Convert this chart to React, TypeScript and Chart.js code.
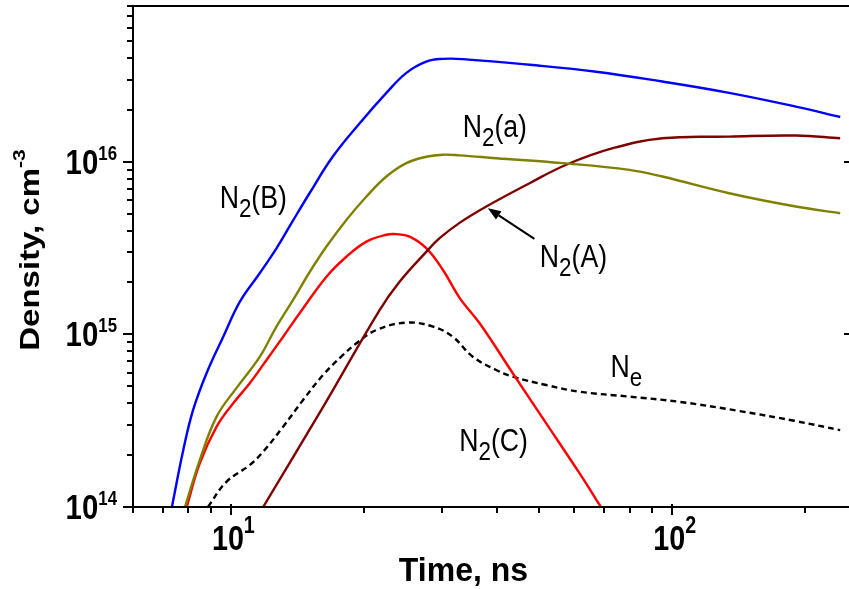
import React, { useEffect, useRef } from 'react';
import { Chart, registerables } from 'chart.js';

Chart.register(...registerables);

const FONT = "'Liberation Sans', Arial, Helvetica, sans-serif";

// ---- data (time in ns, density in cm^-3) ----
const n2bTime = [7.35, 7.8, 8.21, 8.81, 9.59, 10.48, 11.63, 12.68, 13.81, 15.08, 17.0, 19.6, 22.5, 24.97, 27.7, 30.2, 33.5, 47.5, 67.2, 94.9, 134.5, 190.4, 240];
const n2bDensity = [1e14, 2.14e14, 3.65e14, 5.98e14, 9.6e14, 1.55e15, 2.27e15, 3.15e15, 4.55e15, 6.6e15, 1.07e16, 1.68e16, 2.51e16, 3.28e16, 3.81e16, 3.95e16, 3.94e16, 3.65e16, 3.33e16, 2.92e16, 2.51e16, 2.09e16, 1.82e16];

const n2aSmallTime = [7.87, 8.5, 9.28, 10.3, 11.63, 12.68, 13.83, 15.08, 16.46, 18.26, 20.28, 22.5, 24.97, 27.7, 30.2, 32.96, 39.9, 56.4, 79.9, 94.9, 134.5, 190.4, 240];
const n2aSmallDensity = [1e14, 1.87e14, 3.34e14, 4.9e14, 7.43e14, 1.11e15, 1.585e15, 2.3e15, 3.23e15, 4.61e15, 6.3e15, 8.22e15, 9.83e15, 1.07e16, 1.1e16, 1.09e16, 1.05e16, 9.83e15, 8.99e15, 8.22e15, 6.58e15, 5.51e15, 5.04e15];

const n2cTime = [7.94, 8.5, 9.28, 10.12, 11.03, 12.04, 13.13, 14.32, 16.46, 18.26, 20.28, 22.5, 23.7, 25.4, 27.7, 30.2, 32.96, 36.6, 43.5, 51.8, 61.6, 68.9];
const n2cDensity = [1e14, 1.79e14, 2.92e14, 3.99e14, 5.21e14, 7.11e14, 9.7e14, 1.33e15, 2.16e15, 2.82e15, 3.45e15, 3.78e15, 3.81e15, 3.69e15, 3.16e15, 2.37e15, 1.63e15, 1.16e15, 5.96e14, 3.05e14, 1.57e14, 1e14];

const n2ACapTime = [11.83, 16.29, 21.7, 24.1, 27.7, 29.7, 32.96, 37.9, 47.5, 57.5, 73.3, 95.0, 134.5, 190.4, 240];
const n2ACapDensity = [1e14, 3.92e14, 1.38e15, 2.02e15, 3.01e15, 3.61e15, 4.43e15, 5.51e15, 7.52e15, 9.62e15, 1.2e16, 1.37e16, 1.4e16, 1.42e16, 1.37e16];

const neTime = [8.87, 9.77, 11.03, 11.83, 13.13, 14.57, 16.17, 17.94, 19.25, 21.35, 24.97, 28.7, 31.8, 35.3, 39.9, 43.5, 51.8, 61.6, 79.9, 103.7, 141.7, 188.7, 240];
const neDensity = [1e14, 1.4e14, 1.75e14, 2.09e14, 2.92e14, 4.17e14, 5.82e14, 7.6e14, 8.89e14, 1.06e15, 1.17e15, 1.11e15, 9.7e14, 7.43e14, 6.22e14, 5.69e14, 5.09e14, 4.66e14, 4.36e14, 4.07e14, 3.6e14, 3.16e14, 2.79e14];

// ---- axes ----
const xMin = 6;
const xMax = 250;
const yMin = 1e14;
const yMax = 8e16;
const xMajorTicks = [10, 100];
const xMajorExponents = ['1', '2'];
const xMinorTicks = [6, 7, 8, 9, 20, 30, 40, 50, 60, 70, 80, 90, 200];
const yMajorTicks = [1e14, 1e15, 1e16];
const yMajorExponents = ['14', '15', '16'];
const yMinorTicks = [
  2e14, 3e14, 4e14, 5e14, 6e14, 7e14, 8e14, 9e14,
  2e15, 3e15, 4e15, 5e15, 6e15, 7e15, 8e15, 9e15,
  2e16, 3e16, 4e16, 5e16, 6e16, 7e16, 8e16,
];
const xTitle = 'Time, ns';
const yTitleMain = 'Density, cm';
const yTitleSup = '-3';

// ---- curve labels ----
const labelMain = ['N', 'N', 'N', 'N', 'N'];
const labelSub = ['2', '2', '2', '2', 'e'];
const labelTail = ['(B)', '(a)', '(A)', '(C)', ''];
const labelTime = [9.43, 33.5, 50.1, 32.9, 72.4];
const labelDensity = [5.39e15, 1.4e16, 2.47e15, 2.12e14, 5.69e14];

// arrow from N2(A) label to its curve: [tail, head]
const arrowTime = [48.7, 38.2];
const arrowDensity = [3.58e15, 5.39e15];

const pts = (xs: number[], ys: number[]) => xs.map((x, i) => ({ x, y: ys[i] }));

type Part = { t: string; size: number; bold?: boolean; dy?: number };

function drawParts(
  ctx: CanvasRenderingContext2D,
  x: number,
  y: number,
  parts: Part[],
  sx: number,
  align: 'left' | 'right' | 'center'
) {
  ctx.save();
  let w = 0;
  const widths = parts.map((p) => {
    ctx.font = `${p.bold ? 'bold ' : ''}${p.size}px ${FONT}`;
    const m = ctx.measureText(p.t).width;
    w += m;
    return m;
  });
  ctx.translate(x, y);
  ctx.scale(sx, 1);
  let cx = align === 'left' ? 0 : align === 'right' ? -w : -w / 2;
  ctx.textBaseline = 'alphabetic';
  ctx.textAlign = 'left';
  ctx.fillStyle = '#000';
  parts.forEach((p, i) => {
    ctx.font = `${p.bold ? 'bold ' : ''}${p.size}px ${FONT}`;
    ctx.fillText(p.t, cx, p.dy || 0);
    cx += widths[i];
  });
  ctx.restore();
}

const overlay = {
  id: 'overlay',
  afterDraw(chart: any) {
    const { ctx, chartArea: a } = chart;
    const xs = chart.scales.x;
    const ys = chart.scales.y;
    ctx.save();
    ctx.strokeStyle = '#000';
    ctx.lineWidth = 2;
    ctx.lineCap = 'butt';
    // frame
    ctx.beginPath();
    ctx.moveTo(a.left, a.top - 1);
    ctx.lineTo(a.left, a.bottom + 1);
    ctx.moveTo(a.left - 1, a.bottom);
    ctx.lineTo(a.right + 2, a.bottom);
    ctx.moveTo(a.left - 1, a.top);
    ctx.lineTo(a.right + 2, a.top);
    ctx.stroke();
    // y ticks
    ctx.beginPath();
    yMinorTicks.forEach((v) => {
      const py = Math.round(ys.getPixelForValue(v));
      ctx.moveTo(a.left - 6, py);
      ctx.lineTo(a.left, py);
    });
    yMajorTicks.forEach((v) => {
      const py = Math.round(ys.getPixelForValue(v));
      ctx.moveTo(a.left - 10, py);
      ctx.lineTo(a.left, py);
      if (v > yMin) {
        ctx.moveTo(a.right - 4, py);
        ctx.lineTo(a.right + 2, py);
      }
    });
    // x ticks
    xMinorTicks.forEach((v) => {
      const px = Math.round(xs.getPixelForValue(v));
      ctx.moveTo(px, a.bottom);
      ctx.lineTo(px, a.bottom + 6);
    });
    xMajorTicks.forEach((v) => {
      const px = Math.round(xs.getPixelForValue(v));
      ctx.moveTo(px, a.bottom - 3);
      ctx.lineTo(px, a.bottom + 8);
    });
    ctx.stroke();

    // y tick labels
    yMajorTicks.forEach((v, i) => {
      const py = ys.getPixelForValue(v);
      drawParts(ctx, a.left - 16, py, [
        { t: '10', size: 35, bold: true, dy: 12 },
        { t: yMajorExponents[i], size: 20, bold: true, dy: -2 },
      ], 0.84, 'right');
    });
    // x tick labels
    xMajorTicks.forEach((v, i) => {
      const px = xs.getPixelForValue(v);
      drawParts(ctx, px - 19, a.bottom + 43, [
        { t: '10', size: 35, bold: true },
        { t: xMajorExponents[i], size: 24, bold: true, dy: -17 },
      ], 0.82, 'left');
    });
    // x title
    drawParts(ctx, (a.left + a.right) / 2 - 27, 581, [{ t: xTitle, size: 33, bold: true }], 0.97, 'center');
    // y title (rotated)
    ctx.save();
    ctx.translate(38.5, 250);
    ctx.scale(0.82, 1);
    ctx.rotate(-Math.PI / 2);
    drawParts(ctx, 0, 0, [
      { t: yTitleMain, size: 33, bold: true },
      { t: yTitleSup, size: 21, bold: true, dy: -16 },
    ], 1, 'center');
    ctx.restore();

    // curve labels
    labelMain.forEach((m, i) => {
      const px = xs.getPixelForValue(labelTime[i]);
      const py = ys.getPixelForValue(labelDensity[i]);
      const parts: Part[] = [
        { t: m, size: 31 },
        { t: labelSub[i], size: 26, dy: 9 },
      ];
      if (labelTail[i]) parts.push({ t: labelTail[i], size: 31 });
      drawParts(ctx, px, py, parts, 0.86, 'left');
    });

    // arrow
    const x0 = xs.getPixelForValue(arrowTime[0]);
    const y0 = ys.getPixelForValue(arrowDensity[0]);
    const x1 = xs.getPixelForValue(arrowTime[1]);
    const y1 = ys.getPixelForValue(arrowDensity[1]);
    const ang = Math.atan2(y1 - y0, x1 - x0);
    const hl = 13;
    const hw = 5;
    const bx = x1 - hl * Math.cos(ang);
    const by = y1 - hl * Math.sin(ang);
    ctx.lineWidth = 2;
    ctx.beginPath();
    ctx.moveTo(x0, y0);
    ctx.lineTo(bx, by);
    ctx.stroke();
    ctx.fillStyle = '#000';
    ctx.beginPath();
    ctx.moveTo(x1, y1);
    ctx.lineTo(bx + hw * Math.sin(ang), by - hw * Math.cos(ang));
    ctx.lineTo(bx - hw * Math.sin(ang), by + hw * Math.cos(ang));
    ctx.closePath();
    ctx.fill();
    ctx.restore();
  },
};

export default function App() {
  const ref = useRef<HTMLCanvasElement | null>(null);
  useEffect(() => {
    if (!ref.current) return;
    const line = (data: { x: number; y: number }[], color: string, dash: number[] = []) => ({
      data,
      borderColor: color,
      backgroundColor: color,
      borderWidth: 2.4,
      borderDash: dash,
      pointRadius: 0,
      fill: false,
      tension: 0.4,
    });
    const chart = new Chart(ref.current, {
      type: 'line',
      data: {
        datasets: [
          { label: 'N2(B)', ...line(pts(n2bTime, n2bDensity), '#0000ff') },
          { label: 'N2(a)', ...line(pts(n2aSmallTime, n2aSmallDensity), '#808000') },
          { label: 'N2(A)', ...line(pts(n2ACapTime, n2ACapDensity), '#7f0000') },
          { label: 'N2(C)', ...line(pts(n2cTime, n2cDensity), '#ff0000') },
          { label: 'Ne', ...line(pts(neTime, neDensity), '#000000', [6, 4]) },
        ],
      },
      options: {
        animation: false,
        responsive: false,
        devicePixelRatio: 1,
        layout: { padding: { top: 6, right: 1, left: 0, bottom: 0 } },
        plugins: { legend: { display: false }, tooltip: { enabled: false }, title: { display: false } },
        scales: {
          x: {
            type: 'logarithmic',
            min: xMin,
            max: xMax,
            grid: { display: false },
            border: { display: false },
            ticks: { display: false },
            afterFit: (s: any) => {
              s.height = 82;
            },
          },
          y: {
            type: 'logarithmic',
            min: yMin,
            max: yMax,
            grid: { display: false },
            border: { display: false },
            ticks: { display: false },
            afterFit: (s: any) => {
              s.width = 133;
            },
          },
        },
      },
      plugins: [overlay],
    });
    return () => chart.destroy();
  }, []);
  return (
    <div style={{ position: 'absolute', left: 0, top: 0, width: 849, height: 589, background: '#fff' }}>
      <canvas ref={ref} width={849} height={589} style={{ display: 'block' }} />
    </div>
  );
}
